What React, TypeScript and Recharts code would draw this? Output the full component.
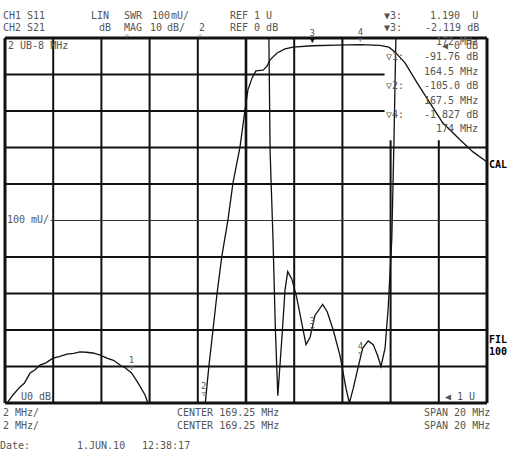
import React from "react";
import {
  LineChart,
  Line,
  XAxis,
  YAxis,
  ReferenceLine,
  ReferenceDot,
} from "recharts";

// CH2 S21, log mag (dB)
const s21Freq = [
  159.25, 159.37, 159.58, 159.87, 160.05, 160.29, 160.5, 160.7, 160.95, 161.24,
  161.5, 161.82, 162.1, 162.36, 162.62, 162.9, 163.2, 163.48, 163.75, 164.02,
  164.25, 164.5, 164.77, 165.06, 165.18, 165.27, 166.0, 167.0, 167.5, 167.56,
  167.71, 167.88, 168.05, 168.25, 168.5, 168.71, 169.0, 169.21, 169.33, 169.5,
  169.66, 169.96, 170.12, 170.25, 170.54, 170.87, 171.2, 172.0, 173.0, 174.0,
  174.8, 175.18, 175.43, 175.85, 176.35, 176.88, 177.42, 178.13, 178.67, 179.25,
];
const s21Db = [
  -100.8, -99.7, -97.8, -95.6, -94.6, -91.8, -90.9, -89.6, -89.0, -87.7,
  -87.3, -86.6, -86.4, -86.0, -86.1, -86.3, -86.9, -87.7, -88.3, -89.6,
  -90.4, -91.76, -94.5, -97.8, -100.0, -101.9, -106.0, -105.5, -105.0, -100.0,
  -89.9, -80.0, -69.9, -59.7, -49.9, -39.7, -29.9, -19.7, -14.2, -11.0,
  -9.0, -8.8, -7.7, -6.0, -4.1, -3.0, -2.5, -2.12, -1.95, -1.83,
  -2.0, -2.5, -3.8, -6.8, -12.3, -17.8, -23.3, -27.9, -31.2, -34.0,
];

// CH1 S11, SWR (lin)
const swrFreq = [
  159.25, 170.15, 170.2, 170.25, 170.37, 170.47, 170.57, 170.73, 170.87, 170.98,
  171.15, 171.35, 171.56, 171.74, 171.91, 172.11, 172.43, 172.62, 172.87, 173.15,
  173.4, 173.54, 173.7, 173.91, 174.09, 174.32, 174.53, 174.71, 174.85, 175.02,
  175.15, 175.3, 175.39, 175.47, 175.52, 179.25,
];
const swrValue = [
  3.0, 3.0, 2.0, 1.69, 1.45, 1.2, 1.02, 1.17, 1.31, 1.36,
  1.34, 1.29, 1.22, 1.16, 1.18, 1.24, 1.27, 1.25, 1.2, 1.13,
  1.04, 1.0, 1.04, 1.1, 1.15, 1.17, 1.16, 1.13, 1.1, 1.15,
  1.26, 1.45, 1.72, 2.0, 3.0, 3.0,
];

// markers
const markerNames = ["1", "2", "3", "4"];
const markerFreq = [164.5, 167.5, 172, 174];
const markerDb = [-91.76, -105.0, -2.119, -1.827];
const ch1MarkerNames = ["3", "4"];
const ch1MarkerFreq = [172, 174];
const ch1MarkerSwr = [1.19, 1.12];

// graticule
const startFreq = 159.25;
const stopFreq = 179.25;
const gridFreq = [161.25, 163.25, 165.25, 167.25, 169.25, 171.25, 173.25, 175.25, 177.25];
const gridDb = [-10, -20, -30, -40, -50, -60, -70, -80, -90];

const s21Data = s21Freq.map((f, i) => ({ f, v: s21Db[i] }));
const swrData = swrFreq.map((f, i) => ({ f, v: swrValue[i] }));

const MONO = "'DejaVu Sans Mono', monospace";
const TXT = "#555";

const texts: { t: string; x: number; y: number; b?: boolean; s?: number }[] = [
  { t: "CH1 S11", x: 3, y: 16 },
  { t: "CH2 S21", x: 3, y: 28 },
  { t: "LIN", x: 91, y: 16 },
  { t: "SWR", x: 124, y: 16 },
  { t: "100", x: 152, y: 16 },
  { t: "mU/", x: 171, y: 16 },
  { t: "dB", x: 99, y: 28 },
  { t: "MAG", x: 124, y: 28 },
  { t: "10", x: 150, y: 28 },
  { t: "dB/", x: 167, y: 28 },
  { t: "2", x: 199, y: 28 },
  { t: "▽", x: 125, y: 36, s: 6 },
  { t: "▽", x: 198, y: 36, s: 6 },
  { t: "REF 1 U", x: 230, y: 16 },
  { t: "REF 0 dB", x: 230, y: 28 },
  { t: "▼3:", x: 384, y: 16 },
  { t: "1.190  U", x: 430, y: 16 },
  { t: "▼3:", x: 384, y: 28 },
  { t: "-2.119 dB", x: 425, y: 28 },
  { t: "2 UB-8 MHz", x: 8, y: 46 },
  { t: "172 MHz", x: 436, y: 42 },
  { t: "◀ 0 dB", x: 442, y: 46 },
  { t: "▽1:", x: 386, y: 57 },
  { t: "-91.76 dB", x: 424, y: 57 },
  { t: "164.5 MHz", x: 424, y: 72 },
  { t: "▽2:", x: 386, y: 86 },
  { t: "-105.0 dB", x: 424, y: 86 },
  { t: "167.5 MHz", x: 424, y: 101 },
  { t: "▽4:", x: 386, y: 115 },
  { t: "-1.827 dB", x: 424, y: 115 },
  { t: "174 MHz", x: 436, y: 129 },
  { t: "100 mU/", x: 7, y: 220 },
  { t: "U0 dB", x: 21, y: 397 },
  { t: "◀ 1 U", x: 445, y: 397 },
  { t: "CAL", x: 489, y: 165, b: true },
  { t: "FIL", x: 489, y: 340, b: true },
  { t: "100", x: 489, y: 352, b: true },
  { t: "2 MHz/", x: 3, y: 413 },
  { t: "2 MHz/", x: 3, y: 426 },
  { t: "CENTER 169.25 MHz", x: 177, y: 413 },
  { t: "CENTER 169.25 MHz", x: 177, y: 426 },
  { t: "SPAN 20 MHz", x: 424, y: 413 },
  { t: "SPAN 20 MHz", x: 424, y: 426 },
  { t: "Date:", x: 0, y: 446 },
  { t: "1.JUN.10", x: 77, y: 446 },
  { t: "12:38:17", x: 142, y: 446 },
];

const MarkerGlyph = (props: any) => {
  const { cx, cy, name, filled } = props;
  if (cx == null || cy == null) return null;
  return (
    <g>
      <text x={cx} y={cy - 3} textAnchor="middle" fontSize={7} fill={filled ? "#111" : TXT} fontFamily={MONO}>
        {filled ? "▼" : "▽"}
      </text>
      <text x={cx} y={cy - 10} textAnchor="middle" fontSize={9} fill={TXT} fontFamily={MONO}>
        {name}
      </text>
    </g>
  );
};

const App = () => {
  const frame = { stroke: "#111", strokeWidth: 3 };
  return (
    <div style={{ position: "absolute", left: 0, top: 0, width: 512, height: 473, background: "#fff" }}>
      <LineChart
        width={512}
        height={473}
        margin={{ top: 38, right: 25, bottom: 70, left: 5 }}
      >
        <XAxis
          type="number"
          dataKey="f"
          domain={[startFreq, stopFreq]}
          allowDataOverflow
          hide
        />
        <YAxis yAxisId="db" type="number" domain={[-100, 0]} allowDataOverflow hide />
        <YAxis yAxisId="swr" type="number" domain={[1, 2]} allowDataOverflow hide />

        {gridFreq.map((f) => (
          <ReferenceLine
            key={"v" + f}
            yAxisId="db"
            segment={[
              { x: f, y: -100 },
              { x: f, y: f > 175 ? -28 : 0 },
            ]}
            stroke="#111"
            strokeWidth={f === 169.25 ? 2.6 : 2}
          />
        ))}
        {gridDb.map((d) =>
          d === -50 ? (
            <ReferenceLine
              key={"h" + d}
              yAxisId="db"
              segment={[
                { x: 161.15, y: d },
                { x: stopFreq, y: d },
              ]}
              stroke="#333"
              strokeWidth={1}
            />
          ) : (
            <ReferenceLine
              key={"h" + d}
              yAxisId="db"
              segment={[
                { x: startFreq, y: d },
                { x: d > -25 ? 175.0 : stopFreq, y: d },
              ]}
              stroke="#111"
              strokeWidth={2}
            />
          )
        )}
        <ReferenceLine yAxisId="db" x={startFreq} {...frame} />
        <ReferenceLine yAxisId="db" x={stopFreq} {...frame} />
        <ReferenceLine yAxisId="db" y={0} {...frame} />
        <ReferenceLine yAxisId="db" y={-100} {...frame} />

        <Line
          yAxisId="db"
          data={s21Data}
          dataKey="v"
          type="linear"
          stroke="#111"
          strokeWidth={1.3}
          dot={false}
          isAnimationActive={false}
        />
        <Line
          yAxisId="swr"
          data={swrData}
          dataKey="v"
          type="linear"
          stroke="#111"
          strokeWidth={1.3}
          dot={false}
          isAnimationActive={false}
        />

        {markerFreq.map((f, i) => (
          <ReferenceDot
            key={"m" + i}
            yAxisId="db"
            x={f}
            y={Math.max(-99, markerDb[i])}
            ifOverflow="visible"
            shape={(p: any) => <MarkerGlyph {...p} name={markerNames[i]} filled={markerNames[i] === "3"} />}
          />
        ))}
        {ch1MarkerFreq.map((f, i) => (
          <ReferenceDot
            key={"c" + i}
            yAxisId="swr"
            x={f}
            y={ch1MarkerSwr[i]}
            ifOverflow="visible"
            shape={(p: any) => <MarkerGlyph {...p} name={ch1MarkerNames[i]} />}
          />
        ))}
      </LineChart>

      {texts.map((o, i) => (
        <div
          key={i}
          style={{
            position: "absolute",
            left: o.x,
            top: o.y - (o.s ? o.s / 2 : 5),
            fontFamily: MONO,
            fontSize: o.s ?? 10,
            lineHeight: o.s ? `${o.s}px` : "10px",
            whiteSpace: "pre",
            color: o.b ? "#000" : TXT,
            fontWeight: o.b ? "bold" : "normal",
          }}
        >
          {o.t}
        </div>
      ))}
    </div>
  );
};

export default App;
